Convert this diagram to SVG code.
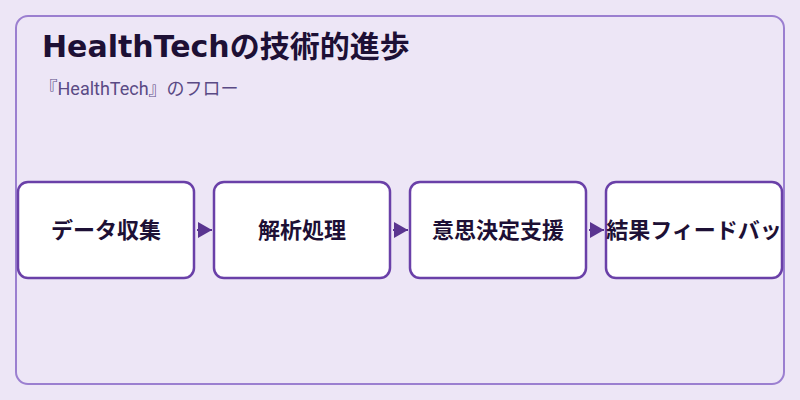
<svg xmlns="http://www.w3.org/2000/svg" width="800" height="400" viewBox="0 0 800 400">
  <defs>
    <style>
      .title { font-family: "DejaVu Sans", "Noto Sans CJK JP", sans-serif; font-weight: bold; font-size: 30px; fill: #1d1035; }
      .sub { font-family: Roboto, "Noto Sans CJK JP", sans-serif; font-size: 18px; fill: #5a4a85; }
      .node rect { fill: #ffffff; stroke: #6a40a8; stroke-width: 2.5; }
      .node text { font-family: "Noto Sans CJK JP", sans-serif; font-weight: bold; font-size: 22px; fill: #1d1035; text-anchor: middle; }
      .conn { stroke: #5a3590; stroke-width: 2; fill: none; }
    </style>
    <marker id="arrow" markerUnits="userSpaceOnUse" markerWidth="15" markerHeight="17" refX="14" refY="8.5" orient="auto">
      <polygon points="0,0.5 14,8.5 0,16.5" fill="#5a3590"/>
    </marker>
  </defs>
  <rect x="0" y="0" width="800" height="400" fill="#ede6f6"/>
  <rect x="16" y="16" width="768" height="368" rx="12" fill="#ede6f6" stroke="#9b7fd0" stroke-width="2"/>
  <text class="title" x="42" y="57">HealthTechの技術的進歩</text>
  <text class="sub" x="39.5" y="95">『HealthTech』のフロー</text>
  <g id="connectors">
    <path class="conn" d="M197,230 L212,230" marker-end="url(#arrow)"/>
    <path class="conn" d="M393,230 L408,230" marker-end="url(#arrow)"/>
    <path class="conn" d="M589,230 L604,230" marker-end="url(#arrow)"/>
  </g>
  <g id="node1" class="node">
    <rect x="18" y="182" width="176" height="96" rx="10"/>
    <text x="106" y="238">データ収集</text>
  </g>
  <g id="node2" class="node">
    <rect x="214" y="182" width="176" height="96" rx="10"/>
    <text x="302" y="238">解析処理</text>
  </g>
  <g id="node3" class="node">
    <rect x="410" y="182" width="176" height="96" rx="10"/>
    <text x="498" y="238">意思決定支援</text>
  </g>
  <g id="node4" class="node">
    <rect x="606" y="182" width="176" height="96" rx="10"/>
    <text x="694" y="238">結果フィードバッ</text>
  </g>
</svg>
